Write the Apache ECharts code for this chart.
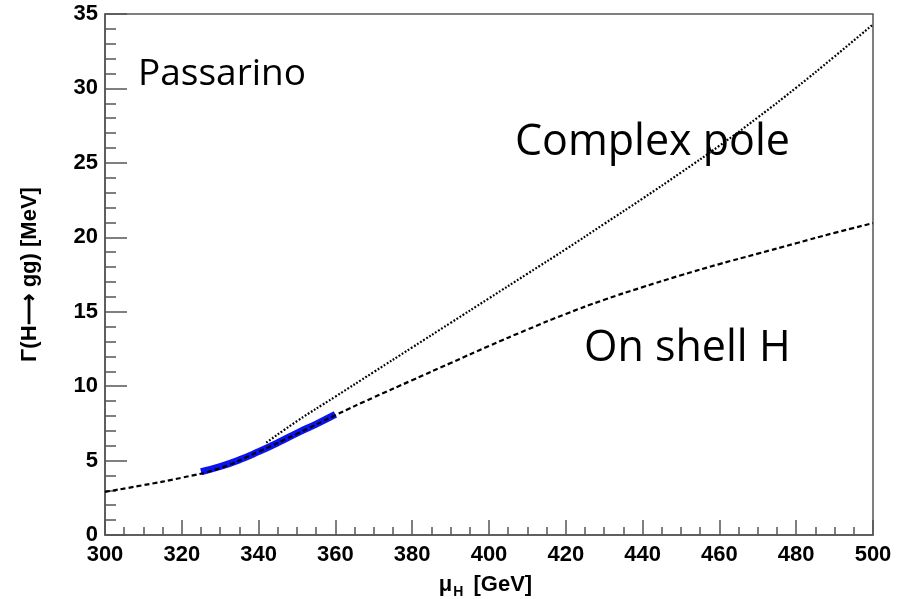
<!DOCTYPE html>
<html>
<head>
<meta charset="utf-8">
<script src="https://cdn.jsdelivr.net/npm/echarts@6/dist/echarts.min.js"></script>
<style>
html, body { margin: 0; padding: 0; background: #fff; }
#chart { width: 911px; height: 599px; }
</style>
</head>
<body>
<div id="chart"></div>
<script>
// on shell H (dashed)
var shellMass = [300, 310, 320, 330, 340, 350, 360, 370, 380, 390, 400, 410, 420, 430, 440, 450, 460, 470, 480, 490, 500];
var shellWidth = [2.9, 3.35, 3.85, 4.5, 5.6, 6.8, 8.05, 9.25, 10.4, 11.55, 12.7, 13.8, 14.85, 15.8, 16.65, 17.45, 18.2, 18.9, 19.6, 20.3, 20.95];

// complex pole (dotted)
var poleMass = [342, 350, 360, 370, 380, 390, 400, 410, 420, 430, 440, 450, 460, 470, 480, 490, 500];
var poleWidth = [6.2, 7.65, 9.3, 10.95, 12.6, 14.25, 15.9, 17.55, 19.2, 20.9, 22.6, 24.35, 26.15, 28.05, 30.05, 32.15, 34.3];

// Passarino band (blue)
var bandMass = [325, 330, 335, 340, 345, 350, 355, 360];
var bandWidth = [4.25, 4.6, 5.05, 5.6, 6.2, 6.85, 7.45, 8.1];

function pairs(xs, ys) {
    return xs.map(function (x, i) { return [x, ys[i]]; });
}

var chart = echarts.init(document.getElementById('chart'));
var tickFont = { fontFamily: 'Liberation Sans', fontWeight: 'bold', fontSize: 22, color: '#000' };
var axisColor = '#555';

chart.setOption({
    animation: false,
    grid: {
        left: 105, right: 38, top: 14, bottom: 64,
        outerBoundsMode: 'none',
        show: true, borderColor: axisColor, borderWidth: 1.5
    },
    xAxis: {
        type: 'value', min: 300, max: 500, interval: 20,
        axisLine: { lineStyle: { color: axisColor, width: 1.5 } },
        axisTick: { inside: true, length: 15, lineStyle: { color: axisColor, width: 1.5 } },
        minorTick: { show: true, splitNumber: 4, length: 8, lineStyle: { color: axisColor, width: 1.5 } },
        splitLine: { show: false },
        axisLabel: Object.assign({ margin: 9 }, tickFont),
        name: '{mu|μ}{sub|H} [GeV]',
        nameLocation: 'middle',
        nameGap: 36,
        nameTextStyle: {
            padding: [0, 7, 0, 0],
            rich: {
                mu: { fontFamily: 'Liberation Sans', fontSize: 22, color: '#000' },
                sub: { fontFamily: 'Liberation Sans', fontWeight: 'bold', fontSize: 14, color: '#000', verticalAlign: 'bottom', padding: [14, 4, 0, 1] }
            },
            fontFamily: 'Liberation Sans', fontWeight: 'bold', fontSize: 22, color: '#000'
        }
    },
    yAxis: {
        type: 'value', min: 0, max: 35, interval: 5,
        axisLine: { lineStyle: { color: axisColor, width: 1.5 } },
        axisTick: { inside: true, length: 22, lineStyle: { color: axisColor, width: 1.5 } },
        minorTick: { show: true, splitNumber: 5, length: 11, lineStyle: { color: axisColor, width: 1.5 } },
        splitLine: { show: false },
        axisLabel: Object.assign({ margin: 7 }, tickFont),
        name: 'Γ(H⟶ gg) [MeV]',
        nameLocation: 'middle',
        nameGap: 64,
        nameTextStyle: { fontFamily: 'Liberation Sans', fontWeight: 'bold', fontSize: 22, color: '#000' }
    },
    series: [
        {
            name: 'Passarino', type: 'line', data: pairs(bandMass, bandWidth),
            showSymbol: false, smooth: true, z: 2,
            lineStyle: { color: '#0a14f0', width: 7 }
        },
        {
            name: 'Complex pole', type: 'line', data: pairs(poleMass, poleWidth),
            showSymbol: false, smooth: true, z: 3,
            lineStyle: { color: '#000', width: 2.2, type: [1.8, 1.8] }
        },
        {
            name: 'On shell H', type: 'line', data: pairs(shellMass, shellWidth),
            showSymbol: false, smooth: true, z: 4,
            lineStyle: { color: '#000', width: 2.2, type: [5, 3] }
        }
    ],
    graphic: [
        { type: 'text', left: 138, top: 56, style: { text: 'Passarino', font: '37px "Open Sans"', fill: '#000' } },
        { type: 'text', left: 515, top: 121, style: { text: 'Complex pole', font: '43px "Open Sans"', fill: '#000' } },
        { type: 'text', left: 584, top: 327, style: { text: 'On shell H', font: '43px "Open Sans"', fill: '#000' } }
    ]
});
</script>
</body>
</html>
